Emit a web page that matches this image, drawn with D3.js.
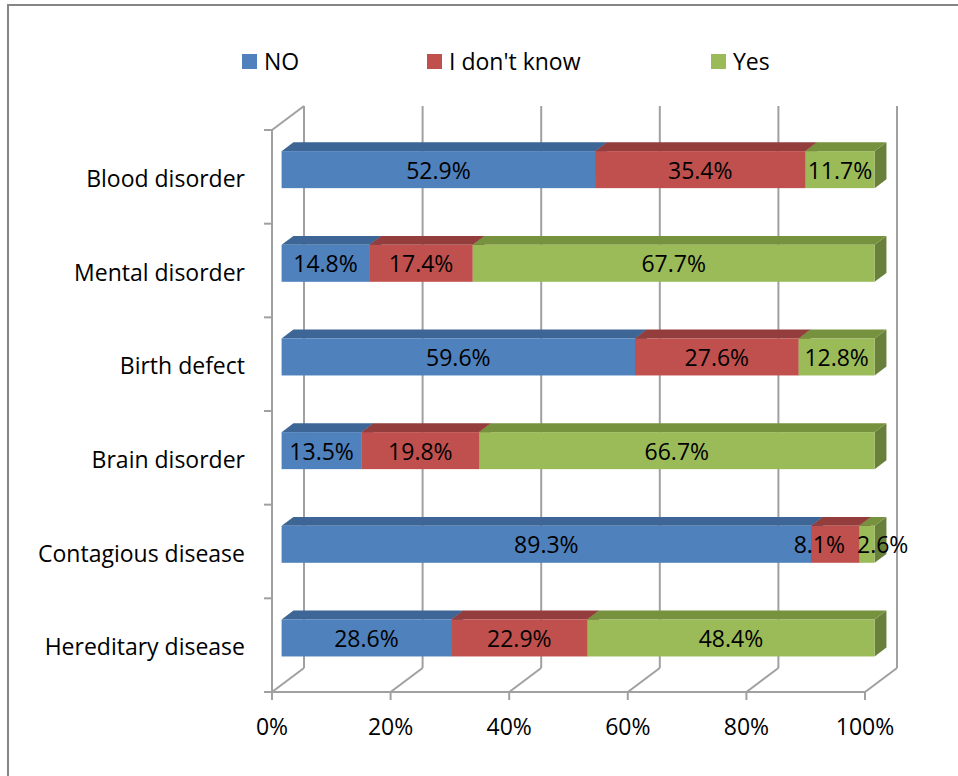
<!DOCTYPE html>
<html>
<head>
<meta charset="utf-8">
<script src="https://cdn.jsdelivr.net/npm/d3@7"></script>
<style>
  body { margin: 0; background: #fff; }
  svg { display: block; font-family: "Open Sans", Lato, sans-serif; }
</style>
</head>
<body>
<div id="chart"></div>
<script>
// chart values
const categories = ["Blood disorder", "Mental disorder", "Birth defect", "Brain disorder", "Contagious disease", "Hereditary disease"];
const seriesNames = ["NO", "I don't know", "Yes"];
const noValues = [52.9, 14.8, 59.6, 13.5, 89.3, 28.6];
const dontKnowValues = [35.4, 17.4, 27.6, 19.8, 8.1, 22.9];
const yesValues = [11.7, 67.7, 12.8, 66.7, 2.6, 48.4];
const tickValues = [0, 0.2, 0.4, 0.6, 0.8, 1];

const width = 958, height = 776;
const fontSize = 23;

// front / side / top colours per series
const frontColors = ["#4f81bd", "#c0504d", "#9bbb59"];
const topColors = ["#3d6696", "#933e3c", "#77923f"];
const sideColors = ["#2f5078", "#7a3230", "#68803a"];

const rows = categories.map((c, i) => ({
  category: c,
  "NO": noValues[i],
  "I don't know": dontKnowValues[i],
  "Yes": yesValues[i]
}));

const stacked = d3.stack().keys(seriesNames).offset(d3.stackOffsetExpand)(rows);

// front plane scales
const x = d3.scaleLinear().domain([0, 1]).range([272, 865]);
const y = d3.scaleBand().domain(categories).range([130, 692])
  .paddingInner(0.605).paddingOuter(0.3025);

// depth projection (full depth of the box)
const DX = 32, DY = -24;
const z0 = 0.3, z1 = 0.67;

const svg = d3.select("#chart").append("svg")
  .attr("width", width)
  .attr("height", height);

// outer frame
svg.append("rect")
  .attr("x", 8).attr("y", 5)
  .attr("width", 1000).attr("height", 1000)
  .attr("fill", "none")
  .attr("stroke", "#868686")
  .attr("stroke-width", 2);

const grid = svg.append("g")
  .attr("stroke", "#a0a0a0")
  .attr("stroke-width", 2)
  .attr("fill", "none");

const yTop = y.range()[0], yBot = y.range()[1];

// back wall gridlines
grid.selectAll(".back").data(tickValues).enter().append("line")
  .attr("x1", d => x(d) + DX).attr("y1", yTop + DY)
  .attr("x2", d => x(d) + DX).attr("y2", yBot + DY);

// floor diagonals
grid.selectAll(".floor").data(tickValues).enter().append("line")
  .attr("x1", d => x(d)).attr("y1", yBot)
  .attr("x2", d => x(d) + DX).attr("y2", yBot + DY);

// front floor edge + ticks
grid.append("line")
  .attr("x1", x(0)).attr("y1", yBot)
  .attr("x2", x(1)).attr("y2", yBot);
grid.selectAll(".xtick").data(tickValues).enter().append("line")
  .attr("x1", d => x(d)).attr("y1", yBot)
  .attr("x2", d => x(d)).attr("y2", yBot + 8);

// left wall
grid.append("line")
  .attr("x1", x(0)).attr("y1", yTop)
  .attr("x2", x(0)).attr("y2", yBot);
grid.append("line")
  .attr("x1", x(0)).attr("y1", yTop)
  .attr("x2", x(0) + DX).attr("y2", yTop + DY);
grid.selectAll(".ytick").data(d3.range(categories.length + 1)).enter().append("line")
  .attr("x1", x(0) - 8).attr("y1", i => yTop + i * y.step())
  .attr("x2", x(0)).attr("y2", i => yTop + i * y.step());

// bars
const bars = svg.append("g");
categories.forEach((c, ci) => {
  stacked.forEach((s, si) => {
    const seg = s[ci];
    const x0 = x(seg[0]), x1 = x(seg[1]);
    const t = y(c), b = t + y.bandwidth();
    const pt = (px, py, z) => [px + z * DX, py + z * DY];
    bars.append("polygon")
      .attr("points", [pt(x1, t, z0), pt(x1, t, z1), pt(x1, b, z1), pt(x1, b, z0)].join(" "))
      .attr("fill", sideColors[si]);
    bars.append("polygon")
      .attr("points", [pt(x0, t, z0), pt(x0, t, z1), pt(x1, t, z1), pt(x1, t, z0)].join(" "))
      .attr("fill", topColors[si]);
    bars.append("rect")
      .attr("x", x0 + z0 * DX)
      .attr("y", t + z0 * DY)
      .attr("width", x1 - x0)
      .attr("height", y.bandwidth())
      .attr("fill", frontColors[si]);
  });
});

// value labels, nudged apart when they collide
const values = [noValues, dontKnowValues, yesValues];
const labels = svg.append("g")
  .attr("font-size", fontSize)
  .attr("fill", "#000")
  .attr("text-anchor", "middle");

categories.forEach((c, ci) => {
  const cy = y(c) + z0 * DY + y.bandwidth() / 2 + 9;
  const items = stacked.map((s, si) => {
    const seg = s[ci];
    const text = labels.append("text")
      .attr("y", cy)
      .text(d3.format(".1f")(values[si][ci]) + "%");
    return { text, cx: (x(seg[0]) + x(seg[1])) / 2 + z0 * DX, w: text.node().getComputedTextLength() };
  });
  for (let k = 0; k < items.length - 1; k++) {
    const a = items[k], b = items[k + 1];
    const overlap = (a.cx + a.w / 2 + 12) - (b.cx - b.w / 2);
    if (overlap > 0) {
      a.cx -= overlap / 2;
      b.cx += overlap / 2;
    }
  }
  items.forEach(it => it.text.attr("x", it.cx));
});

// category labels
svg.append("g")
  .attr("font-size", fontSize)
  .attr("text-anchor", "end")
  .selectAll("text").data(categories).enter().append("text")
  .attr("x", 245)
  .attr("y", d => y(d) + y.bandwidth() / 2 + 10)
  .text(d => d);

// x axis labels
svg.append("g")
  .attr("font-size", fontSize)
  .attr("text-anchor", "middle")
  .selectAll("text").data(tickValues).enter().append("text")
  .attr("x", d => x(d))
  .attr("y", 735)
  .text(d => d3.format(".0%")(d));

// legend
const legendX = [242, 427, 711];
const legend = svg.append("g").attr("font-size", fontSize);
seriesNames.forEach((name, i) => {
  legend.append("rect")
    .attr("x", legendX[i]).attr("y", 54)
    .attr("width", 15).attr("height", 15)
    .attr("fill", frontColors[i]);
  legend.append("text")
    .attr("x", legendX[i] + 22).attr("y", 69.5)
    .text(name);
});
</script>
</body>
</html>
